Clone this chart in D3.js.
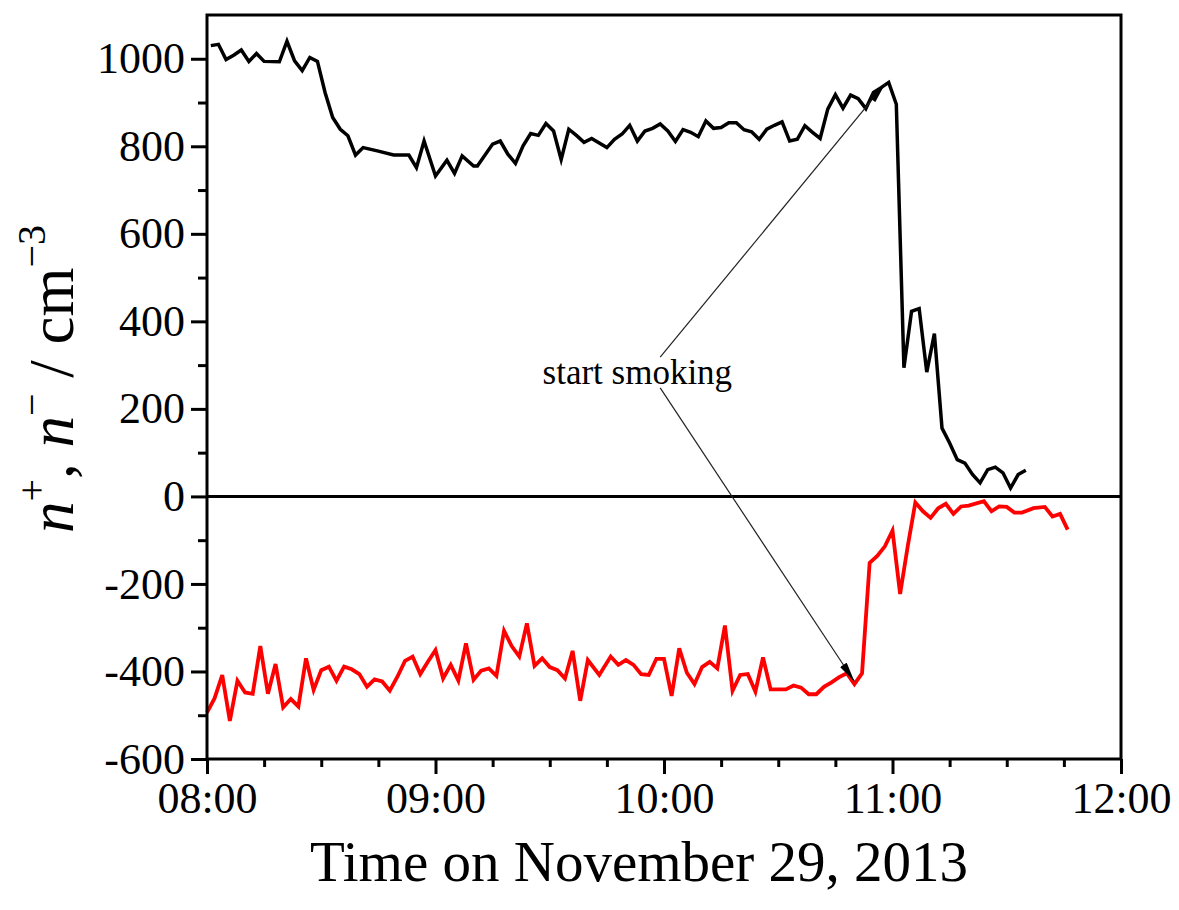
<!DOCTYPE html>
<html>
<head>
<meta charset="utf-8">
<script src="https://cdn.jsdelivr.net/npm/d3@7"></script>
<style>
  html, body { margin: 0; padding: 0; background: #fff; }
  svg { display: block; }
  svg text { font-family: "Liberation Serif", "Times New Roman", serif; }
</style>
</head>
<body>
<svg id="chart" width="1179" height="910"></svg>
<script>
// Positive ion concentration n+ (black), sampled roughly every 2 minutes
const positiveTimes = ["08:01","08:03","08:05","08:07","08:09","08:11","08:13","08:15",
  "08:19","08:21","08:23","08:25","08:27","08:29","08:31","08:33","08:35","08:37","08:39","08:41",
  "08:45","08:49","08:53","08:55","08:57",
  "09:00","09:03","09:05","09:07","09:10","09:11",
  "09:15","09:17","09:19","09:21","09:23","09:25","09:27","09:29","09:31","09:33","09:35","09:37","09:39","09:41",
  "09:45","09:47","09:49","09:51","09:53","09:55","09:57","09:59",
  "10:01","10:03","10:05","10:07","10:09","10:11","10:13","10:15","10:17","10:19","10:21","10:23","10:25","10:27","10:29",
  "10:31","10:33","10:35","10:37","10:39","10:41","10:43","10:45","10:47","10:49","10:51","10:53","10:55","10:57","10:59",
  "11:01","11:03","11:05","11:07","11:09","11:11","11:13","11:15","11:17","11:19","11:21","11:23","11:25","11:27","11:29","11:31","11:33","11:35"];
const positiveValues = [1030,1033,998,1008,1020,994,1012,994,
  993,1040,995,973,1003,994,923,866,839,824,780,797,
  789,780,780,751,812,
  732,768,738,778,755,755,
  805,812,782,761,801,829,825,852,835,770,839,825,809,818,
  797,816,828,848,812,835,841,851,
  835,811,838,832,822,858,841,843,854,854,838,833,816,839,848,
  856,812,816,847,832,818,885,918,887,917,909,886,923,934,946,
  896,294,423,429,284,372,156,122,84,76,50,31,61,67,54,19,50,60];

// Negative ion concentration n- (red), plotted as negative values
const negativeTimes = ["08:00","08:02","08:04","08:06","08:08","08:10","08:12","08:14","08:16","08:18",
  "08:20","08:22","08:24","08:26","08:28","08:30","08:32","08:34","08:36","08:38",
  "08:40","08:42","08:44","08:46","08:48","08:50","08:52","08:54","08:56","08:58",
  "09:00","09:02","09:04","09:06","09:08","09:10","09:12","09:14","09:16","09:18",
  "09:20","09:22","09:24","09:26","09:28","09:30","09:32","09:34","09:36","09:38","09:40",
  "09:43","09:46","09:48","09:50","09:52","09:54","09:56","09:58",
  "10:00","10:02","10:04","10:06","10:08","10:10","10:12","10:14","10:16","10:18","10:20","10:22","10:24","10:26","10:28",
  "10:32","10:34","10:36","10:38","10:40","10:42","10:44","10:46","10:48","10:50","10:52","10:54","10:56","10:58",
  "11:00","11:02","11:04","11:06","11:08","11:10","11:12","11:14","11:16","11:18","11:20",
  "11:24","11:26","11:28","11:30","11:32","11:34",
  "11:37","11:40","11:42","11:44","11:46"];
const negativeValues = [-494,-461,-408,-513,-421,-448,-451,-342,-451,-383,
  -482,-463,-480,-370,-442,-397,-389,-421,-389,-395,
  -406,-435,-418,-423,-444,-412,-376,-366,-406,-378,
  -351,-416,-385,-421,-336,-419,-398,-393,-410,-307,
  -342,-366,-290,-387,-370,-390,-397,-416,-353,-467,-374,
  -408,-366,-385,-374,-385,-406,-408,-371,
  -371,-456,-347,-403,-429,-390,-378,-393,-295,-444,-408,-406,-446,-368,-441,
  -441,-432,-437,-452,-452,-435,-425,-413,-404,-429,-404,-152,-136,-114,
  -78,-223,-114,-14,-34,-49,-27,-17,-40,-23,-21,
  -11,-34,-23,-24,-37,-37,
  -27,-24,-46,-40,-76];

// Axis ticks
const xMajorTicks = ["08:00","09:00","10:00","11:00","12:00"];
const yMajorTicks = [-600,-400,-200,0,200,400,600,800,1000];
const yMinorTicks = [-500,-300,-100,100,300,500,700,900];

// "start smoking" annotation: label anchor and the two arrow ends
const noteText = "start smoking";
const noteLabel = ["09:53", 256];
const noteArrowFrom = [["09:59", 318], ["09:59", 248]];
const noteArrowTo = [["10:58", 942], ["10:50", -423]];

const parseTime = t => new Date(`2013-11-29T${t}:00`);
const serif = '"Liberation Serif", "Times New Roman", serif';

const svg = d3.select("#chart");
const margin = {top: 15, right: 58, bottom: 151, left: 207};
const W = 1179, H = 910;
const innerW = W - margin.left - margin.right;
const innerH = H - margin.top - margin.bottom;

const x = d3.scaleTime()
  .domain([parseTime("08:00"), parseTime("12:00")])
  .range([margin.left, margin.left + innerW]);
const y = d3.scaleLinear()
  .domain([-600, 1100])
  .range([margin.top + innerH, margin.top]);

// Lines
const line = d3.line()
  .x(d => x(d.t))
  .y(d => y(d.v));

const positive = positiveTimes.map((t, i) => ({t: parseTime(t), v: positiveValues[i]}));
const negative = negativeTimes.map((t, i) => ({t: parseTime(t), v: negativeValues[i]}));

// Zero reference line
svg.append("line")
  .attr("x1", x.range()[0]).attr("x2", x.range()[1])
  .attr("y1", y(0)).attr("y2", y(0))
  .attr("stroke", "#000").attr("stroke-width", 3);

svg.append("path")
  .datum(negative)
  .attr("d", line)
  .attr("fill", "none")
  .attr("stroke", "#ff0000")
  .attr("stroke-width", 3.8)
  .attr("stroke-linejoin", "miter");

svg.append("path")
  .datum(positive)
  .attr("d", line)
  .attr("fill", "none")
  .attr("stroke", "#000")
  .attr("stroke-width", 3.5)
  .attr("stroke-linejoin", "miter");

// Annotation arrows
const defs = svg.append("defs");
defs.append("marker")
  .attr("id", "arrowhead")
  .attr("viewBox", "0 0 20 8")
  .attr("refX", 20).attr("refY", 4)
  .attr("markerWidth", 20).attr("markerHeight", 8)
  .attr("markerUnits", "userSpaceOnUse")
  .attr("orient", "auto")
  .append("path")
  .attr("d", "M0,0 L20,4 L0,8 Z")
  .attr("fill", "#000");

noteArrowFrom.forEach((from, i) => {
  const to = noteArrowTo[i];
  svg.append("line")
    .attr("x1", x(parseTime(from[0]))).attr("y1", y(from[1]))
    .attr("x2", x(parseTime(to[0]))).attr("y2", y(to[1]))
    .attr("stroke", "#222").attr("stroke-width", 1.2)
    .attr("marker-end", "url(#arrowhead)");
});

svg.append("text")
  .attr("x", x(parseTime(noteLabel[0])))
  .attr("y", y(noteLabel[1]))
  .attr("text-anchor", "middle")
  .style("font-family", serif)
  .attr("font-size", 35)
  .attr("fill", "#000")
  .text(noteText);

// Axes
const xAxisMajor = d3.axisBottom(x)
  .tickValues(xMajorTicks.map(parseTime))
  .tickFormat(d3.timeFormat("%H:%M"))
  .tickSize(15)
  .tickPadding(8);
const xMinor = d3.timeMinute.every(15).range(parseTime("08:00"), parseTime("12:00"))
  .filter(d => d.getMinutes() !== 0);

const gx = svg.append("g")
  .attr("transform", `translate(0,${margin.top + innerH})`)
  .call(xAxisMajor)
  .style("font-family", serif);
gx.select(".domain").remove();
gx.selectAll(".tick line").attr("stroke-width", 3);
gx.selectAll(".tick text")
  .style("font-family", serif)
  .attr("font-size", 44)
  .attr("fill", "#000");

const gxMinor = svg.append("g")
  .attr("transform", `translate(0,${margin.top + innerH})`)
  .call(d3.axisBottom(x).tickValues(xMinor).tickSize(8).tickFormat(""));
gxMinor.select(".domain").remove();
gxMinor.selectAll(".tick line").attr("stroke-width", 3);

const yAxisMajor = d3.axisLeft(y)
  .tickValues(yMajorTicks)
  .tickFormat(d => d < 0 ? "-" + Math.abs(d) : String(d))
  .tickSize(16)
  .tickPadding(6);
const gy = svg.append("g")
  .attr("transform", `translate(${margin.left},0)`)
  .call(yAxisMajor)
  .style("font-family", serif);
gy.select(".domain").remove();
gy.selectAll(".tick line").attr("stroke-width", 3);
gy.selectAll(".tick text")
  .style("font-family", serif)
  .attr("font-size", 44)
  .attr("fill", "#000");

const gyMinor = svg.append("g")
  .attr("transform", `translate(${margin.left},0)`)
  .call(d3.axisLeft(y).tickValues(yMinorTicks).tickSize(9).tickFormat(""));
gyMinor.select(".domain").remove();
gyMinor.selectAll(".tick line").attr("stroke-width", 3);

// Plot frame
svg.append("rect")
  .attr("x", margin.left).attr("y", margin.top)
  .attr("width", innerW).attr("height", innerH)
  .attr("fill", "none")
  .attr("stroke", "#000").attr("stroke-width", 3);

// Axis titles
svg.append("text")
  .attr("x", 639)
  .attr("y", 881)
  .attr("text-anchor", "middle")
  .style("font-family", serif)
  .attr("font-size", 57)
  .attr("fill", "#000")
  .text("Time on November 29, 2013");

const yTitle = svg.append("text")
  .attr("transform", `translate(73,${(margin.top + margin.top + innerH) / 2 - 8}) rotate(-90)`)
  .attr("text-anchor", "middle")
  .style("font-family", serif)
  .attr("font-size", 63)
  .attr("fill", "#000");
yTitle.append("tspan").attr("font-style", "italic").text("n");
yTitle.append("tspan").attr("font-size", 40).attr("dy", -28).text("+");
yTitle.append("tspan").attr("dy", 28).text(", ");
yTitle.append("tspan").attr("font-style", "italic").text("n");
yTitle.append("tspan").attr("font-size", 40).attr("dy", -28).text("\u2212");
yTitle.append("tspan").attr("dy", 28).text(" / cm");
yTitle.append("tspan").attr("font-size", 40).attr("dy", -28).text("\u22123");
</script>
</body>
</html>
